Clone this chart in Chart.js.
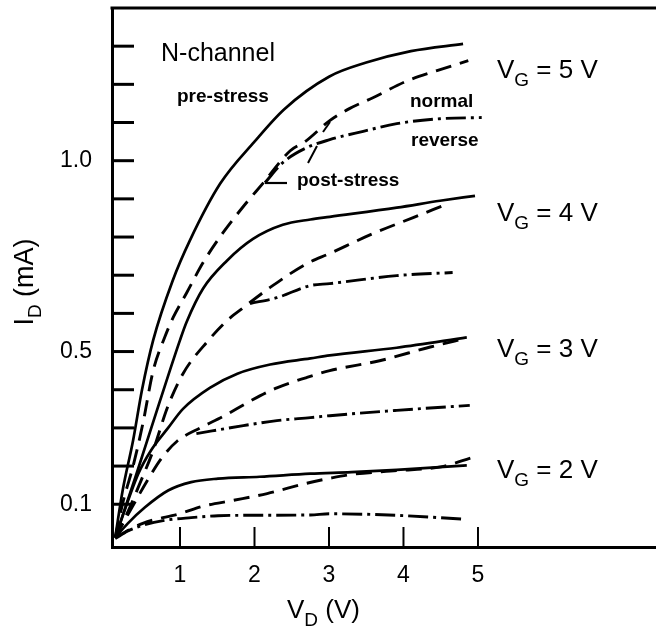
<!DOCTYPE html>
<html><head><meta charset="utf-8">
<script src="https://cdn.jsdelivr.net/npm/chart.js@4.4.1/dist/chart.umd.min.js"></script>
<style>html,body{margin:0;padding:0;background:#fff}canvas{display:block}</style>
</head><body>
<canvas id="c" width="656" height="632"></canvas>
<script>
// ---- data (V_D in volts, I_D in mA) ----
const gateVoltages = [5, 4, 3, 2];
const xTickValues = [1, 2, 3, 4, 5];
const yTickValues = [0.1, 0.2, 0.3, 0.4, 0.5, 0.6, 0.7, 0.8, 0.9, 1.0, 1.1, 1.2, 1.3];
const yTickLabels = [0.1, 0.5, 1.0];

// pre-stress (solid)
const vg5Pre = [[0.13,0.013],[0.23,0.136],[0.37,0.267],[0.49,0.40],[0.64,0.53],[0.9,0.685],[1.13,0.79],[1.54,0.94],[2.0,1.05],[2.4,1.135],[3.0,1.22],[3.5,1.257],[4.1,1.287],[4.8,1.306]];
const vg4Pre = [[0.13,0.013],[0.4,0.17],[0.73,0.37],[1.0,0.53],[1.09,0.578],[1.31,0.665],[1.63,0.738],[1.98,0.795],[2.38,0.832],[2.75,0.846],[3.01,0.853],[3.91,0.877],[4.49,0.895],[4.96,0.908]];
const vg3Pre = [[0.13,0.013],[0.44,0.18],[0.61,0.241],[0.84,0.30],[1.04,0.35],[1.4,0.405],[1.77,0.442],[2.21,0.466],[2.75,0.482],[3.01,0.49],[3.91,0.51],[4.85,0.537]];
const vg2Pre = [[0.13,0.013],[0.3,0.05],[0.53,0.092],[0.84,0.136],[1.15,0.158],[1.51,0.167],[2.07,0.172],[2.75,0.18],[3.3,0.184],[3.91,0.19],[4.85,0.202]];

// post-stress, normal mode (dashed)
const vg5Normal = [[0.13,0.013],[0.24,0.11],[0.37,0.2],[0.5,0.31],[0.64,0.45],[0.8,0.54],[0.91,0.59],[1.09,0.654],[1.31,0.733],[1.58,0.812],[1.85,0.88],[2.11,0.94],[2.48,1.026],[2.68,1.05],[3.01,1.105],[3.28,1.137],[3.59,1.165],[4.05,1.209],[4.45,1.236],[4.87,1.262]];
const vg4Normal = [[0.13,0.013],[0.29,0.076],[0.46,0.154],[0.64,0.241],[0.83,0.353],[1.04,0.442],[1.38,0.529],[1.63,0.581],[1.85,0.615],[2.21,0.668],[2.7,0.73],[3.01,0.757],[3.59,0.809],[4.13,0.851],[4.53,0.882]];
const vg3Normal = [[0.13,0.013],[0.35,0.09],[0.57,0.165],[0.75,0.22],[0.96,0.265],[1.27,0.3],[1.58,0.33],[1.94,0.37],[2.3,0.405],[2.7,0.432],[3.01,0.45],[3.68,0.476],[4.36,0.512],[4.85,0.535]];
const vg2Normal = [[0.13,0.013],[0.5,0.05],[1.01,0.076],[1.31,0.095],[1.71,0.11],[2.17,0.128],[2.7,0.155],[3.01,0.168],[3.3,0.178],[3.91,0.188],[4.5,0.198],[4.92,0.222]];

// post-stress, reverse mode (dash-dot)
const vg5Reverse = [[2.14,0.942],[2.38,0.995],[2.7,1.034],[3.01,1.055],[3.46,1.077],[3.91,1.097],[4.49,1.11],[5.05,1.113]];
const vg4Reverse = [[1.94,0.626],[2.3,0.641],[2.75,0.673],[3.01,0.678],[3.91,0.699],[4.66,0.707]];
const vg3Reverse = [[1.22,0.285],[1.85,0.306],[2.3,0.319],[2.75,0.327],[3.01,0.332],[3.91,0.346],[4.89,0.359]];
const vg2Reverse = [[0.13,0.01],[0.3,0.03],[0.5,0.045],[0.8,0.058],[1.15,0.065],[1.51,0.07],[1.85,0.071],[2.75,0.072],[3.01,0.075],[3.91,0.071],[4.8,0.061]];

// ---- build chart ----
const FONT = '"Liberation Sans", Arial, Helvetica, sans-serif';
const INK = '#000';
const styles = {
  pre:     {dash: [], width: 2.7},
  normal:  {dash: [16, 9], width: 2.9},
  reverse: {dash: [20, 5, 3, 5], width: 2.9}
};
function ds(points, kind, label) {
  return {
    label,
    data: points.map(p => ({x: p[0], y: p[1]})),
    borderColor: INK,
    borderWidth: styles[kind].width,
    borderDash: styles[kind].dash,
    pointRadius: 0,
    fill: false,
    cubicInterpolationMode: 'monotone',
    borderCapStyle: 'butt'
  };
}
const datasets = [
  ds(vg5Pre,'pre','VG=5 pre'), ds(vg5Normal,'normal','VG=5 normal'), ds(vg5Reverse,'reverse','VG=5 reverse'),
  ds(vg4Pre,'pre','VG=4 pre'), ds(vg4Normal,'normal','VG=4 normal'), ds(vg4Reverse,'reverse','VG=4 reverse'),
  ds(vg3Pre,'pre','VG=3 pre'), ds(vg3Normal,'normal','VG=3 normal'), ds(vg3Reverse,'reverse','VG=3 reverse'),
  ds(vg2Pre,'pre','VG=2 pre'), ds(vg2Normal,'normal','VG=2 normal'), ds(vg2Reverse,'reverse','VG=2 reverse')
];

function subText(ctx, parts, x, y, size) {
  let cx = x;
  ctx.font = size + 'px ' + FONT;
  ctx.fillText(parts[0], cx, y); cx += ctx.measureText(parts[0]).width;
  const ss = Math.round(size * 0.72);
  ctx.font = ss + 'px ' + FONT;
  ctx.fillText(parts[1], cx, y + size * 0.3); cx += ctx.measureText(parts[1]).width;
  ctx.font = size + 'px ' + FONT;
  ctx.fillText(parts[2], cx, y);
}
function subWidth(ctx, parts, size) {
  ctx.font = size + 'px ' + FONT;
  let w = ctx.measureText(parts[0]).width + ctx.measureText(parts[2]).width;
  ctx.font = Math.round(size * 0.72) + 'px ' + FONT;
  return w + ctx.measureText(parts[1]).width;
}

const decor = {
  id: 'decor',
  afterDraw(chart) {
    const ctx = chart.ctx, a = chart.chartArea;
    const xs = chart.scales.x, ys = chart.scales.y;
    ctx.save();
    ctx.strokeStyle = INK; ctx.fillStyle = INK; ctx.lineCap = 'butt';
    // top frame line
    ctx.lineWidth = 3;
    ctx.beginPath(); ctx.moveTo(a.left - 1.5, a.top); ctx.lineTo(chart.width, a.top); ctx.stroke();
    // inward y ticks
    ctx.lineWidth = 3;
    yTickValues.forEach(v => {
      const py = ys.getPixelForValue(v);
      ctx.beginPath(); ctx.moveTo(a.left, py); ctx.lineTo(a.left + 22, py); ctx.stroke();
    });
    // inward x ticks
    ctx.lineWidth = 2;
    xTickValues.forEach(v => {
      const px = xs.getPixelForValue(v);
      ctx.beginPath(); ctx.moveTo(px, a.bottom); ctx.lineTo(px, a.bottom - 20); ctx.stroke();
    });
    // annotation pointers
    ctx.lineWidth = 2.2;
    ctx.beginPath(); ctx.moveTo(265, 183); ctx.lineTo(287, 183); ctx.stroke();
    ctx.lineWidth = 2;
    ctx.beginPath(); ctx.moveTo(308, 163); ctx.lineTo(317, 146); ctx.stroke();
    ctx.beginPath(); ctx.moveTo(323, 132); ctx.lineTo(330, 122); ctx.stroke();

    ctx.textAlign = 'left'; ctx.textBaseline = 'alphabetic';
    ctx.font = '25px ' + FONT;
    ctx.fillText('N-channel', 161, 61);
    ctx.font = 'bold 19px ' + FONT;
    ctx.fillText('pre-stress', 177, 102);
    ctx.fillText('normal', 410, 107);
    ctx.fillText('reverse', 411, 146);
    ctx.fillText('post-stress', 297, 186);
    const vgBase = [78, 221, 357, 478];
    gateVoltages.forEach((vg, i) => {
      subText(ctx, ['V', 'G', ' = ' + vg + ' V'], 497, vgBase[i], 26);
    });
    subText(ctx, ['V', 'D', ' (V)'], 287, 618, 26);
    ctx.save();
    ctx.translate(33, 282);
    ctx.rotate(-Math.PI / 2);
    const yt = ['I', 'D', ' (mA)'];
    const w = subWidth(ctx, yt, 27);
    subText(ctx, yt, -w / 2, 0, 27);
    ctx.restore();
    ctx.restore();
  }
};

new Chart(document.getElementById('c'), {
  type: 'line',
  data: {datasets},
  options: {
    responsive: false,
    animation: false,
    devicePixelRatio: 1,
    layout: {padding: {top: 8, right: 0, left: 0, bottom: 0}},
    plugins: {legend: {display: false}, tooltip: {enabled: false}},
    scales: {
      x: {
        type: 'linear', min: 0.087, max: 7.39,
        afterBuildTicks: s => { s.ticks = xTickValues.map(v => ({value: v})); },
        afterFit: s => { s.height = 85; s.paddingLeft = 0; s.paddingRight = 0; },
        ticks: {color: INK, font: {family: FONT, size: 23}, padding: 15, maxRotation: 0,
                callback: v => xTickValues.includes(v) ? String(v) : ''},
        grid: {display: false, drawTicks: false},
        border: {display: true, color: INK, width: 3}
      },
      y: {
        type: 'linear', min: -0.012, max: 1.40,
        afterBuildTicks: s => { s.ticks = yTickValues.map(v => ({value: v})); },
        afterFit: s => { s.width = 112; s.paddingTop = 0; s.paddingBottom = 0; },
        ticks: {color: INK, font: {family: FONT, size: 23}, padding: 20,
                callback: v => yTickLabels.some(t => Math.abs(t - v) < 1e-6) ? v.toFixed(1) : ''},
        grid: {display: false, drawTicks: false},
        border: {display: true, color: INK, width: 3}
      }
    }
  },
  plugins: [decor]
});
</script>
</body></html>
